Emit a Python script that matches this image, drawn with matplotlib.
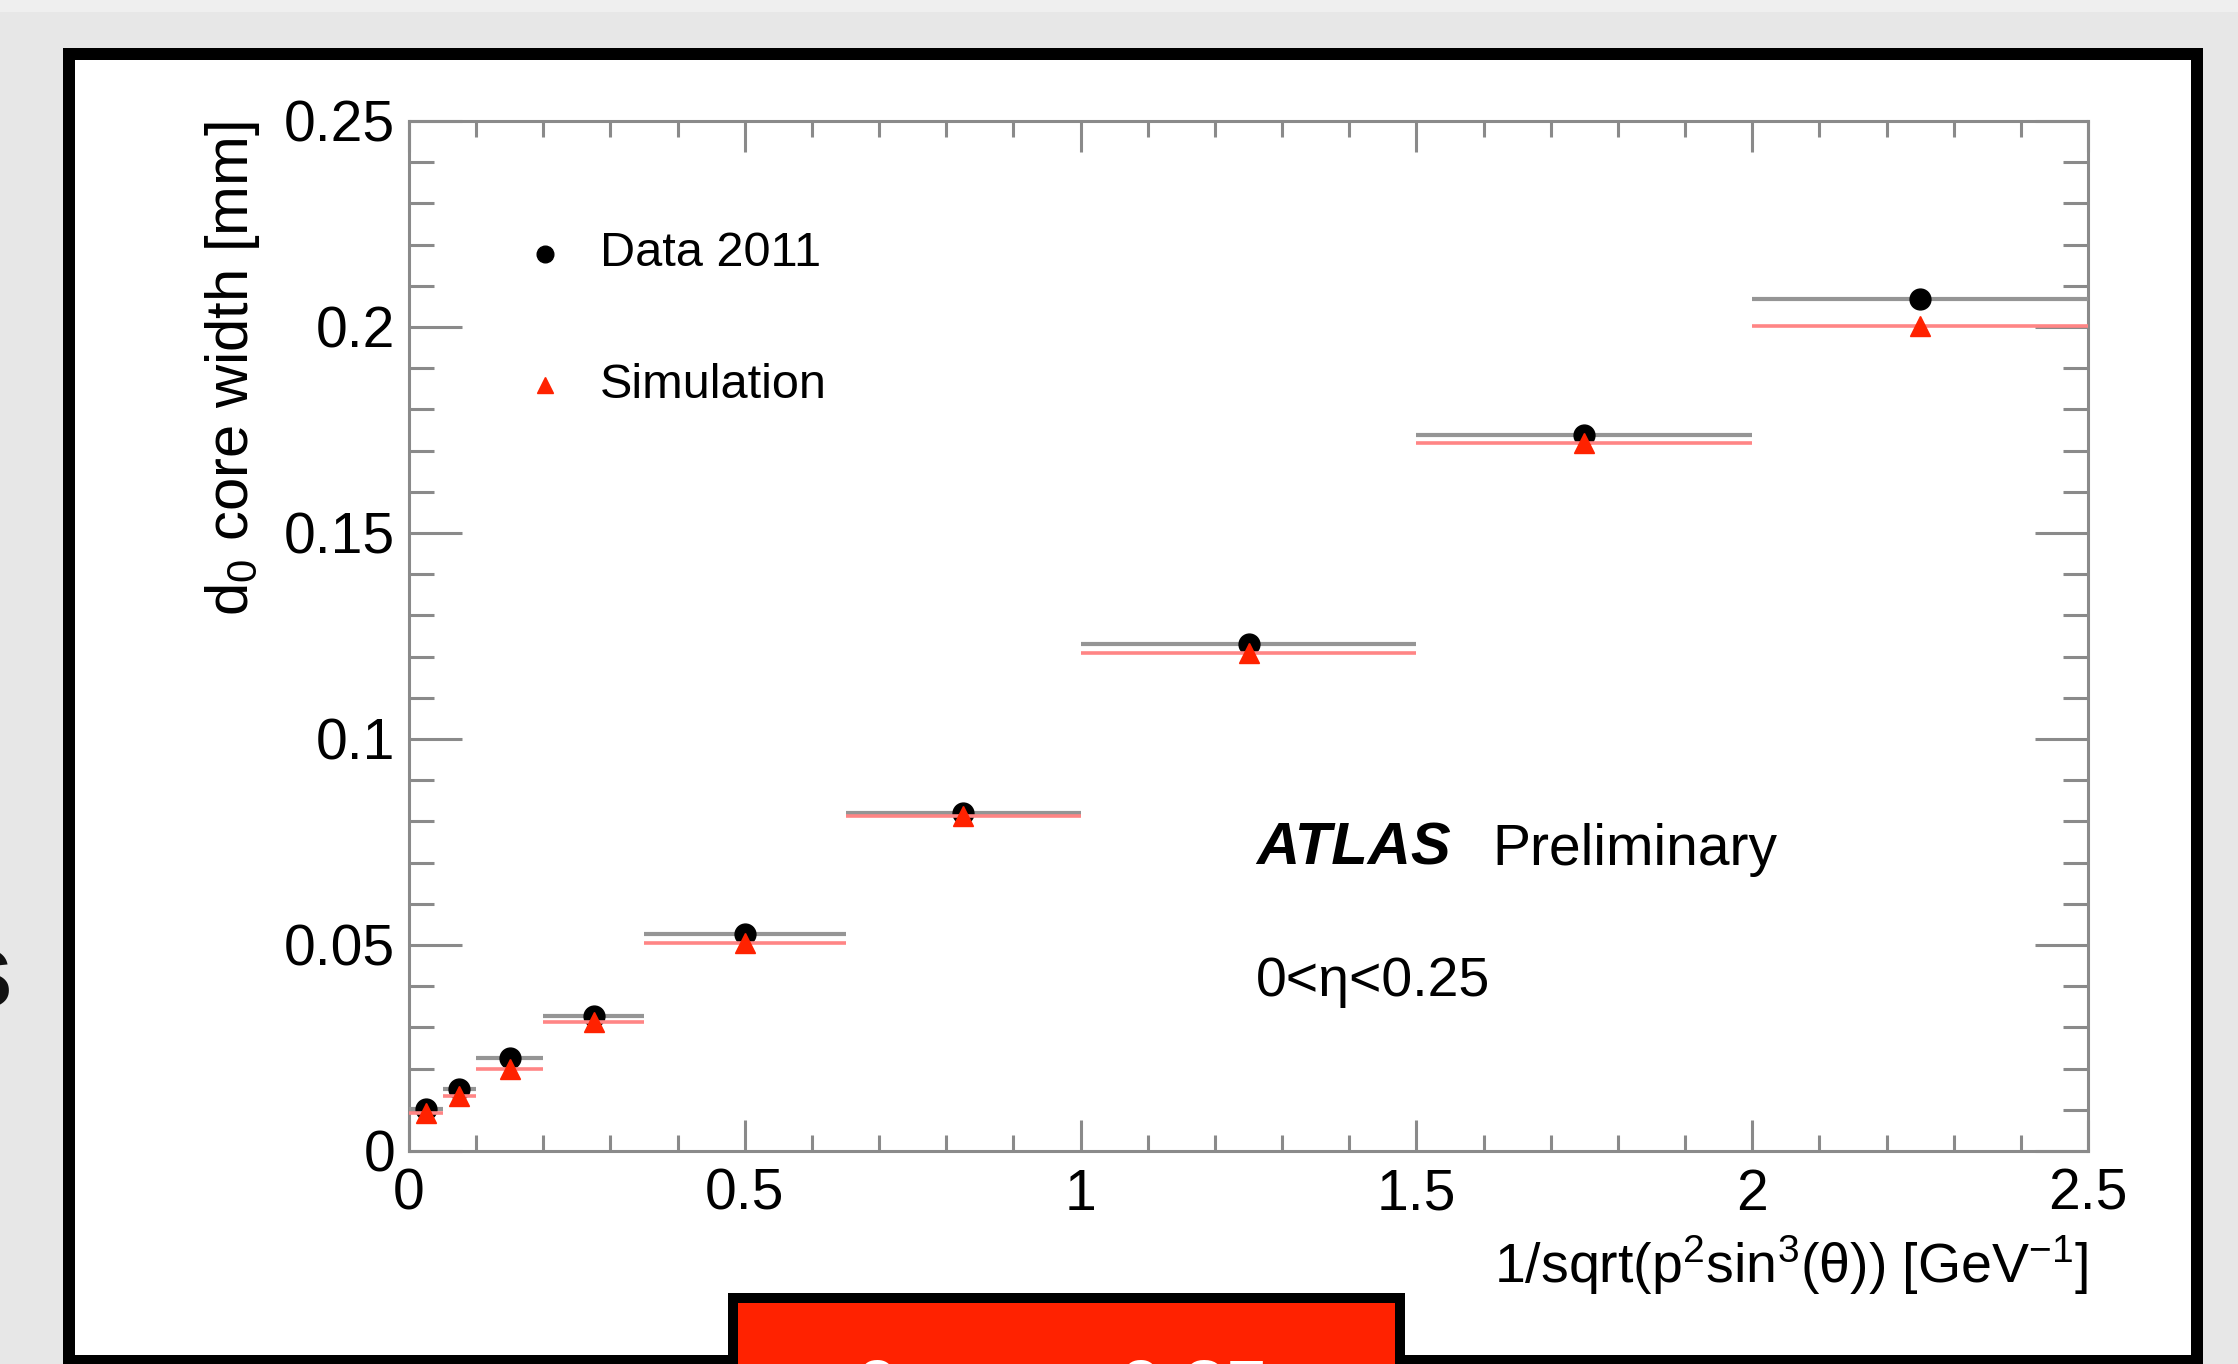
import matplotlib
matplotlib.use("Agg")
import matplotlib.pyplot as plt
from matplotlib.patches import Rectangle
from matplotlib.ticker import MultipleLocator, FixedLocator
import numpy as np

# ---------------- data ----------------
bin_lo = [0.0, 0.05, 0.10, 0.20, 0.35, 0.65, 1.0, 1.5, 2.0]
bin_hi = [0.05, 0.10, 0.20, 0.35, 0.65, 1.0, 1.5, 2.0, 2.5]
bin_center = [0.025, 0.075, 0.15, 0.275, 0.50, 0.825, 1.25, 1.75, 2.25]
data_2011 = [0.0102, 0.0150, 0.0225, 0.0328, 0.0527, 0.0820, 0.1231, 0.1738, 0.2067]
simulation = [0.0092, 0.0134, 0.0199, 0.0312, 0.0505, 0.0813, 0.1209, 0.1719, 0.2003]

x_major_ticks = [0, 0.5, 1, 1.5, 2, 2.5]
x_tick_labels = ["0", "0.5", "1", "1.5", "2", "2.5"]
y_major_ticks = [0, 0.05, 0.1, 0.15, 0.2, 0.25]
y_tick_labels = ["0", "0.05", "0.1", "0.15", "0.2", "0.25"]

W, H = 2238, 1364
DPI = 100
plt.rcParams['font.family'] = ['Liberation Sans', 'DejaVu Sans']
plt.rcParams['mathtext.fontset'] = 'custom'
plt.rcParams['mathtext.rm'] = 'Liberation Sans'
plt.rcParams['mathtext.it'] = 'Liberation Sans:italic'
plt.rcParams['mathtext.bf'] = 'Liberation Sans:bold'

fig = plt.figure(figsize=(W / DPI, H / DPI), dpi=DPI, facecolor='#e7e7e7')

def fx(px):
    return px / W

def fy(py):
    return 1 - py / H

# top lighter strip
fig.patches.append(Rectangle((0, fy(12)), 1, 12 / H, transform=fig.transFigure,
                             facecolor='#efefef', edgecolor='none', zorder=-3))
# slide frame (white with black border)
fig.patches.append(Rectangle((fx(69), fy(1361)), fx(2197 - 69), (1361 - 54) / H,
                             transform=fig.transFigure, facecolor='white',
                             edgecolor='black', lw=12 * 0.72, zorder=-2))
# red box at the bottom
fig.patches.append(Rectangle((fx(733), fy(1420)), fx(1400 - 733), (1420 - 1298) / H,
                             transform=fig.transFigure, facecolor='#ff2200',
                             edgecolor='black', lw=10 * 0.72, zorder=2))
fig.text(fx(1062), fy(1413), "0 < η < 0.25", color='white', fontsize=55,
         fontweight='bold', ha='center', va='baseline', zorder=3)
# cut-off letter at the left edge
fig.text(fx(13), fy(1007), "s", color='#111111', fontsize=78, fontweight='bold',
         ha='right', va='baseline', zorder=3)

# ---------------- axes ----------------
ax = fig.add_axes([fx(409), fy(1151), fx(2088 - 409), (1151 - 121) / H])
ax.set_facecolor('white')
ax.set_xlim(0, 2.5)
ax.set_ylim(0, 0.25)

gray = '#8a8a8a'
for s in ax.spines.values():
    s.set_color(gray)
    s.set_linewidth(2.2)

ax.xaxis.set_major_locator(FixedLocator(x_major_ticks))
ax.set_xticklabels(x_tick_labels)
ax.xaxis.set_minor_locator(MultipleLocator(0.1))
ax.yaxis.set_major_locator(FixedLocator(y_major_ticks))
ax.set_yticklabels(y_tick_labels)
ax.yaxis.set_minor_locator(MultipleLocator(0.01))

ax.tick_params(axis='both', which='both', direction='in', top=True, right=True,
               color=gray, width=2.2, labelsize=41, labelcolor='black')
ax.tick_params(axis='x', which='major', length=22, pad=12)
ax.tick_params(axis='x', which='minor', length=11.5)
ax.tick_params(axis='y', which='major', length=38, pad=10)
ax.tick_params(axis='y', which='minor', length=18)

# data: horizontal bin-width bars + markers
lo = np.array(bin_lo)
hi = np.array(bin_hi)
ax.hlines(data_2011, lo, hi, colors='#959595', lw=3.0, zorder=3)
ax.plot(bin_center, data_2011, 'o', color='black', ms=15, mec='black', zorder=4)
ax.hlines(simulation, lo, hi, colors='#ff8585', lw=2.6, zorder=5)
ax.plot(bin_center, simulation, '^', color='#ff2200', ms=14, mec='#ff2200', zorder=6)

# legend (manual, ROOT style)
ax.plot([0.081], [0.871], 'o', color='black', ms=12, transform=ax.transAxes, clip_on=False)
ax.text(0.1138, 0.871, "Data 2011", fontsize=35, va='center', ha='left', transform=ax.transAxes)
ax.plot([0.081], [0.7436], '^', color='#ff2200', ms=11, transform=ax.transAxes, clip_on=False)
ax.text(0.1138, 0.7436, "Simulation", fontsize=35, va='center', ha='left', transform=ax.transAxes)

# ATLAS label
ax.text(0.5045, 0.2777, "ATLAS", fontsize=43, fontweight='bold', fontstyle='italic',
        ha='left', va='baseline', transform=ax.transAxes)
ax.text(0.645, 0.2777, "Preliminary", fontsize=41, ha='left', va='baseline',
        transform=ax.transAxes)
ax.text(0.5045, 0.1505, "0<η<0.25", fontsize=40, ha='left', va='baseline',
        transform=ax.transAxes)

# axis titles
ax.text(-0.1050, 1.0, r"d$_{0}$ core width [mm]", rotation=90, fontsize=43,
        ha='center', va='top', transform=ax.transAxes)
ax.text(1.0, -0.128, r"1/sqrt(p$^{2}$sin$^{3}$(θ)) [GeV$^{-1}$]", fontsize=40,
        ha='right', va='baseline', transform=ax.transAxes)

fig.savefig("out.png", dpi=DPI, facecolor=fig.get_facecolor())
